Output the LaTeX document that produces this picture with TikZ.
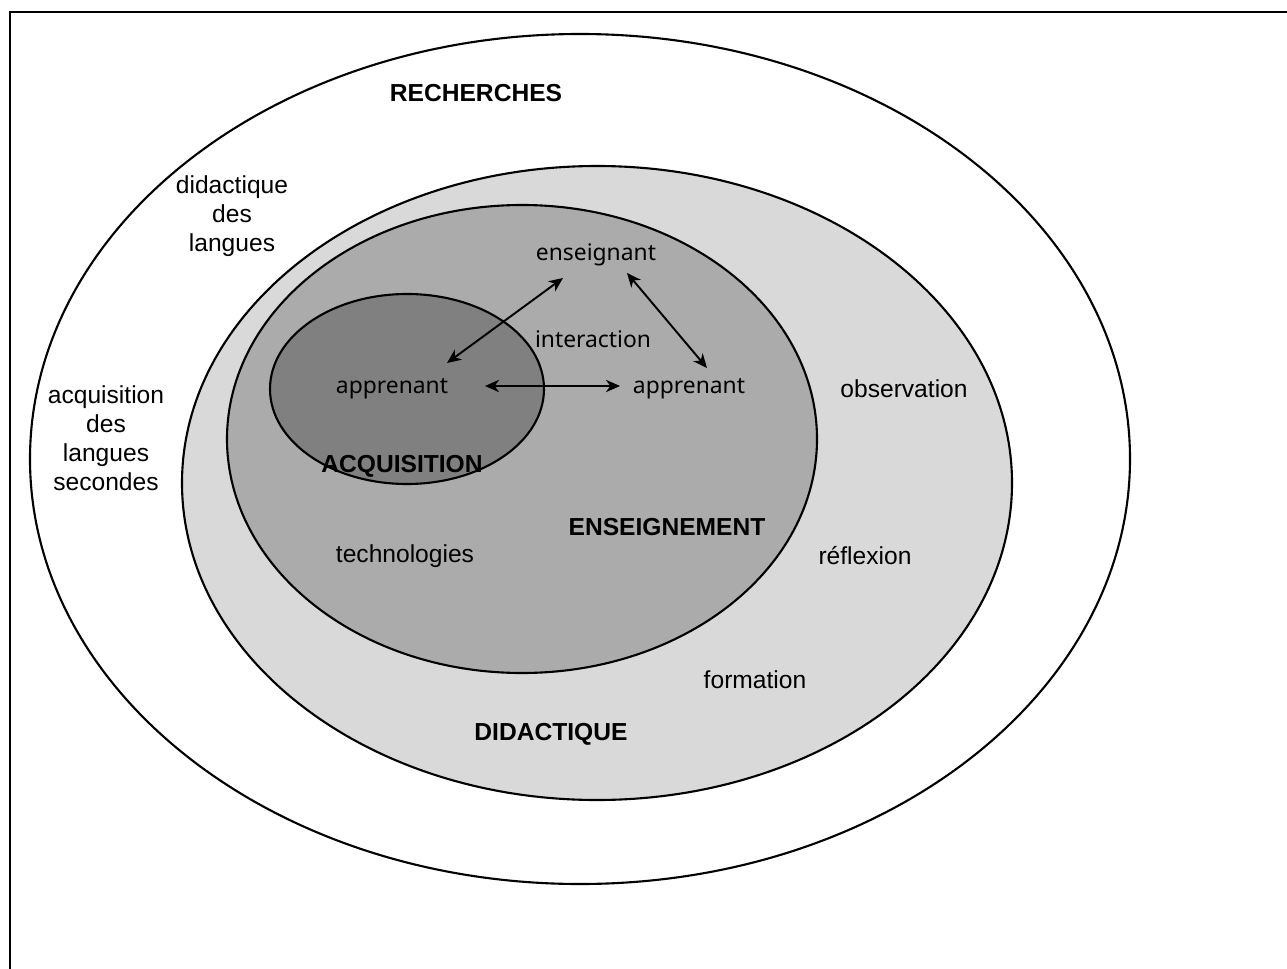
\documentclass[tikz,border=0pt]{standalone}
\usepackage{fontspec}
\setmainfont{Liberation Sans}
\newfontfamily\roundfont{Noto Sans}
\usepackage{tikz}
\usetikzlibrary{positioning,calc,arrows.meta}

\begin{document}
\begin{tikzpicture}[x=0.02cm, y=-0.02cm,
	zone/.style={draw=black, line width=1.2pt},
	lbl/.style={font=\fontsize{14}{16.5}\selectfont, align=center, inner sep=3pt},
	titlelbl/.style={font=\fontsize{14}{16}\selectfont\bfseries, inner sep=1pt},
	actor/.style={font=\fontsize{13}{16}\selectfont\roundfont, inner sep=3pt},
	link/.style={{Stealth[length=8pt,width=7pt,inset=2.5pt]}-{Stealth[length=8pt,width=7pt,inset=2.5pt]}, line width=1.1pt}]
		\useasboundingbox (0,0) rectangle (1287,969);
		\draw[line width=1.3pt] (10,969) -- (10,12) -- (1287,12);
		
		\draw[zone, fill=white] (580,459) ellipse (550 and 425);
		\draw[zone, fill=black!15] (597,483) ellipse (415 and 317);
		\draw[zone, fill=black!33] (522,439) ellipse (295 and 234);
		\draw[zone, fill=black!50] (407,389) ellipse (137 and 95);
		
		\node[titlelbl] (rech) at (476,93) {RECHERCHES};
		\node[lbl] (didl) at (232,216) {didactique\\des\\langues};
		\node[lbl] (acql) at (106,438) {acquisition\\des\\langues\\secondes};
		
		\node[actor] (ens) at (596,255) {enseignant};
		\node[actor] (inter) at (593,339) {interaction};
		\node[actor] (app1) at (392,389) {apprenant};
		\node[actor] (app2) at (689,389) {apprenant};
		
		\node[titlelbl] (acq) at (402,466) {ACQUISITION};
		\node[titlelbl] (enseig) at (667,527) {ENSEIGNEMENT};
		\node[lbl] (techno) at (405,556) {technologies};
		\node[lbl] (obs) at (904,389) {observation};
		\node[lbl] (refl) at (865,556) {réflexion};
		\node[lbl] (form) at (755,680) {formation};
		\node[titlelbl] (didac) at (551,734) {DIDACTIQUE};
		
		\draw[link] ([shift={(-33,23)}]ens.center) -- ([shift={(55,-26)}]app1.center);
		\draw[link] ([shift={(31,18)}]ens.center) -- ([shift={(18,-21)}]app2.center);
		\draw[link] ([shift={(93,-3)}]app1.center) -- ([shift={(-69,-3)}]app2.center);
	\end{tikzpicture}
\end{document}
